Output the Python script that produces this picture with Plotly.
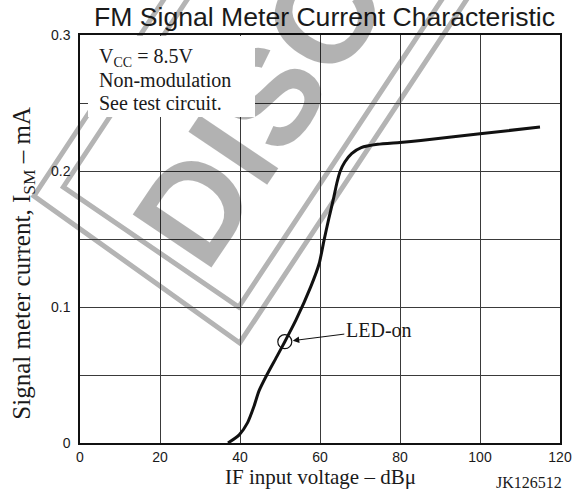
import math
import plotly.graph_objects as go

# Signal meter current vs IF input level
if_level_dbu = [37.0, 39.8, 41.9, 43.5, 44.7, 46.7, 49.2, 51.2, 54.0, 57.7, 59.8,
                61.0, 62.2, 63.4, 64.2, 65.0, 66.2, 67.9, 70.3, 74.4, 80.0, 85.2,
                100.0, 115.0]
ism_ma = [0.0, 0.006, 0.015, 0.027, 0.038, 0.050, 0.0635, 0.0745, 0.0905, 0.115,
          0.132, 0.149, 0.165, 0.180, 0.191, 0.1995, 0.2066, 0.2128, 0.2172,
          0.2196, 0.221, 0.2225, 0.2274, 0.2323]

# LED turn-on point
led_x = [51.2]
led_y = [0.0745]

x_ticks = [0, 20, 40, 60, 80, 100, 120]
y_ticks = [0, 0.05, 0.1, 0.15, 0.2, 0.25, 0.3]
y_tick_text = ["0", "", "0.1", "", "0.2", "", "0.3"]

W, H = 584, 495
PL, PT, PW, PH = 80, 35, 490, 408

SERIF = "Liberation Serif, Times New Roman, serif"
SANS = "Liberation Sans, Arial, sans-serif"


def paper(px, py):
    """Pixel position on the page -> paper coordinates."""
    return (px - PL) / PW, (PT + PH - py) / PH


fig = go.Figure()

fig.add_trace(go.Scatter(
    x=if_level_dbu, y=ism_ma, mode="lines",
    line=dict(color="#111111", width=3, shape="spline", smoothing=0.6),
    hoverinfo="skip", showlegend=False,
))
fig.add_trace(go.Scatter(
    x=led_x, y=led_y, mode="markers",
    marker=dict(symbol="circle-open", size=14, color="#111111", line=dict(width=1.2)),
    hoverinfo="skip", showlegend=False,
))

# "DISCONTINUED" stamp frame: two nested rotated rectangles
ang = math.radians(56)
ux, uy = math.cos(ang), -math.sin(ang)
shapes = []
for (ax_, ay_), (bx_, by_) in [((33, 196), (243, 343)), ((63, 187), (242, 307))]:
    pts = [(ax_ + 800 * ux, ay_ + 800 * uy), (ax_, ay_), (bx_, by_),
           (bx_ + 800 * ux, by_ + 800 * uy)]
    pp = [paper(*p) for p in pts]
    path = "M " + " L ".join(f"{x:.4f},{y:.4f}" for x, y in pp)
    shapes.append(dict(type="path", path=path, xref="paper", yref="paper",
                       line=dict(color="#b4b4b4", width=5), layer="below"))

annotations = []

# stamp lettering
sx, sy = paper(468, -187)
annotations.append(dict(
    x=sx, y=sy, xref="paper", yref="paper", text="<b>DISCONTINUED</b>",
    showarrow=False, textangle=-56, xanchor="center", yanchor="middle",
    font=dict(family=SANS, size=138, color="rgba(0,0,0,0.30)"),
))

# condition box
bx, by = paper(88, 36)
annotations.append(dict(
    x=bx, y=by, xref="paper", yref="paper", text=" ", showarrow=False,
    xanchor="left", yanchor="top", width=167, height=81,
    bgcolor="white", borderwidth=0, borderpad=0,
))
for txt, cy in [("V<sub>CC</sub> = 8.5V", 57), ("Non-modulation", 80),
                ("See test circuit.", 103)]:
    tx, ty = paper(97, cy)
    annotations.append(dict(
        x=tx, y=ty, xref="paper", yref="paper", text=txt, showarrow=False,
        xanchor="left", yanchor="middle",
        font=dict(family=SERIF, size=20, color="#1a1a1a"),
    ))

# LED-on callout
annotations.append(dict(
    x=led_x[0], y=led_y[0], xref="x", yref="y", text="LED-on",
    showarrow=True, ax=94, ay=-12, arrowhead=2, arrowsize=1.3, arrowwidth=1,
    arrowcolor="#111111", standoff=8,
    font=dict(family=SERIF, size=20, color="#1a1a1a"),
))

# axis titles
tx, ty = paper(325.5, 477)
annotations.append(dict(
    x=tx, y=ty, xref="paper", yref="paper", text="IF input voltage – dBμ",
    showarrow=False, xanchor="center", yanchor="middle",
    font=dict(family=SERIF, size=21, color="#1a1a1a"),
))
tx, ty = paper(21.5, 263)
annotations.append(dict(
    x=tx, y=ty, xref="paper", yref="paper",
    text="Signal meter current, I<sub>SM</sub> – mA",
    showarrow=False, textangle=-90, xanchor="center", yanchor="middle",
    font=dict(family=SERIF, size=25, color="#1a1a1a"),
))
tx, ty = paper(538, 482)
annotations.append(dict(
    x=tx, y=ty, xref="paper", yref="paper", text="JK126512",
    showarrow=False, xanchor="center", yanchor="middle",
    font=dict(family=SERIF, size=16, color="#1a1a1a"),
))

fig.update_layout(
    width=W, height=H,
    margin=dict(l=PL, r=W - PL - PW, t=PT, b=H - PT - PH),
    paper_bgcolor="white", plot_bgcolor="white",
    title=dict(text="FM Signal Meter Current Characteristic",
               x=324.5 / W, xref="container", xanchor="center",
               y=1 - 16.5 / H, yref="container", yanchor="middle",
               font=dict(family=SANS, size=26.6, color="#1a1a1a")),
    shapes=shapes,
    annotations=annotations,
    showlegend=False,
)
fig.update_xaxes(
    range=[0, 120], tickvals=x_ticks, ticks="",
    showgrid=True, gridcolor="#3a3a3a", gridwidth=1,
    showline=True, mirror=True, linecolor="#111111", linewidth=1.5,
    zeroline=False, ticklabelstandoff=0,
    tickfont=dict(family=SANS, size=14, color="#1a1a1a"),
)
fig.update_yaxes(
    range=[0, 0.3], tickvals=y_ticks, ticktext=y_tick_text, ticks="",
    showgrid=True, gridcolor="#3a3a3a", gridwidth=1,
    showline=True, mirror=True, linecolor="#111111", linewidth=1.5,
    zeroline=False, ticklabelstandoff=5,
    tickfont=dict(family=SANS, size=14, color="#1a1a1a"),
)

fig.write_html("out.html")
